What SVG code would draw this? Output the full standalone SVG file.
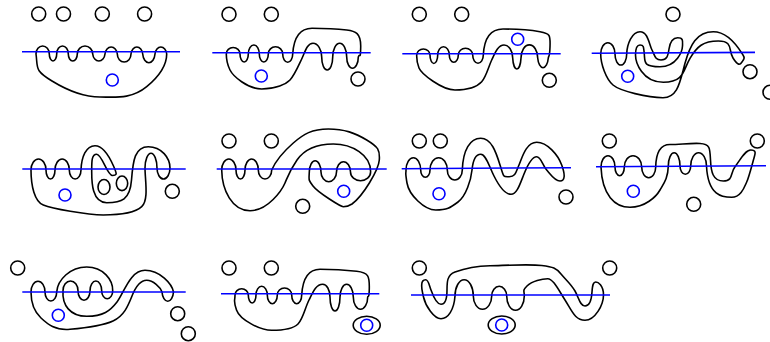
<svg xmlns="http://www.w3.org/2000/svg" width="770" height="342" viewBox="0 0 770 342">
<style>
path,circle,ellipse{fill:none;stroke:#000;stroke-width:1.6}
.b{stroke:#00f}
</style>
<rect width="770" height="342" fill="#fff"/>
<g id="p1">
<path d="M36 54A6.65 8 0 0 1 49.3 54A3.7 7 0 0 0 56.7 54A5.8 8 0 0 1 68.3 54A4.5 7 0 0 0 77.3 54A7.7 8 0 0 1 92.7 54A6.2 8 0 0 0 105 54A6.2 8 0 0 1 117.3 54A6.8 8 0 0 0 131 54A5.9 8 0 0 1 142.7 54A6.2 10 0 0 0 155 54A5.9 8 0 0 1 166.7 54C166.7 64 162 74 146.7 86.7S115 97 100 97S70 92 52 81S38 68 36 54Z"/>
<path class="b" d="M22 51.7H180"/><circle cx="38.7" cy="14" r="7"/><circle cx="63.5" cy="14" r="7"/><circle cx="102.3" cy="14" r="7"/><circle cx="144.6" cy="14" r="7"/><circle class="b" cx="112.3" cy="80" r="6"/>
</g>
<g id="p2">
<path d="M226.3 54A6.85 6.5 0 0 1 240 54A4.15 8 0 0 0 248.3 54A5.5 9 0 0 1 259.3 54A4.5 8 0 0 0 268.3 54A7.2 7.3 0 0 1 282.7 54A5 8.3 0 0 0 292.7 54C293.5 42 297 28.3 312 28.3S338 29 346.7 30S361 33 360.7 47S360 52 358.3 57A5.8 11.3 0 0 1 346.7 57A7 13.7 0 0 0 332.7 57A5.5 13 0 0 1 321.7 57A8.7 13.7 0 0 0 313 43.3C307 43.3 305 52 301.7 59S294 76 290 80S276 89 261.7 89S233 76 230 70S226.3 60 226.3 54Z"/>
<path class="b" d="M212.3 52.7H370.7"/><circle cx="229" cy="14.3" r="7"/><circle cx="271.3" cy="14.3" r="7"/><circle cx="358" cy="79" r="7"/><circle class="b" cx="261.3" cy="76" r="6"/>
</g>
<g id="p3">
<path d="M416.7 55A6.65 6 0 0 1 430 55A3.85 8.5 0 0 0 437.7 55A5.8 8.3 0 0 1 449.3 55A4.5 7.3 0 0 0 458.3 55A7.2 6.7 0 0 1 472.7 55A5.3 8.3 0 0 0 483.3 55C484 42 488 29 503 29S530 30 540 31.7S550.5 35 550 47S549 54 548.3 58A5.4 12 0 0 1 537.7 58A8.3 13 0 0 0 521 58A4.2 13 0 0 1 512.7 58A8.7 13 0 0 0 504 45C498 45 495 53 491.7 60S486 77 481.7 81.7S468 90 455 90S421.5 74 419 68S416.7 59 416.7 55Z"/>
<path class="b" d="M402.3 53.7H560.7"/><circle cx="419.3" cy="14.3" r="7"/><circle cx="461.7" cy="14.3" r="7"/><circle cx="549.3" cy="80.3" r="7"/><circle class="b" cx="517.7" cy="39.3" r="6"/>
</g>
<g id="p4">
<path d="M600.7 54A7.15 11.3 0 0 1 615 54A5.85 11 0 0 0 626.7 54C627 44 632 31.7 640 31.7C648 31.7 649 44 652 50S655 60 661 60S668 56 669 49S672 37.7 677.7 37.7S682.7 41 682.5 46S677 66.7 660 66.7S645 62 644.3 54S643.5 45 640 45S635.5 48 635.5 55S642 82.3 663.3 82.3S683 70 690 58.3S703 41 718.3 41S728 50 733 58S740 65 742 62S745 58 743 55S730 31.7 713.3 31.7S690 45 685 63.3S678 97.7 663 97.7S620 91 613 85S600.7 64 600.7 54Z"/>
<path class="b" d="M591.7 53.3L755 52.4"/><circle cx="673" cy="14.3" r="7"/><circle cx="750" cy="71.7" r="7"/><circle cx="770" cy="92.3" r="7"/><circle class="b" cx="627.7" cy="76.3" r="6"/>
</g>
<g id="p5">
<path d="M31 170A7.5 11 0 0 1 46 170A4.5 9 0 0 0 55 170A7.15 11 0 0 1 69.3 170A5.85 9 0 0 0 81 170C81.5 157 86 145.7 95 145.7S110 158 113.5 166S117.5 175.5 112.3 175.5S102 154.3 96.7 154.3S91.7 162 91.7 172S92 202.7 106.7 202.7S130 200 131.5 180S135 146.7 148.3 146.7S170 158 170 168A6.5 11 0 0 1 157 168A6 14.7 0 0 0 145 168C145 180 149 200 141.7 206.7S120 215 103.3 215S52 208.5 43.3 205S31 186 31 170Z"/>
<path class="b" d="M22.3 169H185.7"/><circle cx="172.3" cy="191.3" r="7"/><ellipse cx="104" cy="187" rx="6" ry="7.5"/><ellipse cx="122" cy="183.3" rx="5.7" ry="7.3"/><circle class="b" cx="65" cy="195" r="6"/>
</g>
<g id="p6">
<path d="M221.7 170A7.15 11 0 0 1 236 170A4.5 9 0 0 0 245 170A6.65 11 0 0 1 258.3 170A6.7 9 0 0 0 271.7 170C276 160 283 152 293.3 143S312 129 328.3 129S355 133 366.7 140S380 150 379.3 160S363 196 352 204C349 206 346 206.7 343.3 206.7S318 192.5 313 186S309 180 309.3 172A5.85 11.3 0 0 1 321 172A7.75 9.7 0 0 0 336.5 172A7 10.3 0 0 1 350.5 172A10.05 8.7 0 0 0 370.6 172C371 155 352 144 333.3 144S304 150 297 160S288 176 285 183S268 210.7 250 210.7S222 190 221.7 170Z"/>
<path class="b" d="M216.7 169H386.7"/><circle cx="229" cy="141" r="7"/><circle cx="271.3" cy="141" r="7"/><circle cx="302.7" cy="206.3" r="7"/><circle class="b" cx="343.7" cy="191.3" r="6"/>
</g>
<g id="p7">
<path d="M406 170A7.35 12.3 0 0 1 420.7 170A4.65 7.3 0 0 0 430 170A8.65 12.3 0 0 1 447.3 170A7.5 10 0 0 0 462.3 170C463 150 470 138.3 480.7 138.3S496 152 500 165S503 176.7 509.3 176.7S516 172 519 165S526 142.3 536.7 142.3S558 155 561.7 165S565 181 560 181S551 175 546.7 170S541 156.7 536.7 156.7S528 164 524 174S517 194.3 511 194.3S499 186 494 176S486 154.3 480.7 154.3S473 160 472 170S466 196 458 202S447 210 435.7 210S409 195 407 183S406 175 406 170Z"/>
<path class="b" d="M401.7 168.7L571 167.7"/><circle cx="419.3" cy="141" r="7"/><circle cx="440.3" cy="141" r="7"/><circle cx="566" cy="197" r="7"/><circle class="b" cx="439" cy="193.7" r="6"/>
</g>
<g id="p8">
<path d="M601 167A7 11.3 0 0 1 615 167A4.65 8.7 0 0 0 624.3 167A8.7 11.3 0 0 1 641.7 167A7 10.7 0 0 0 655.7 167C656 153 660 144.5 670 144.5S690 143 700 143.5S710 148 710.5 160S713 181 723.3 181S730 173 735 166.7S745 150 750.7 150S755.5 153 754 158S749 177 746.7 182S741 197.3 731.7 197.3S708 196 706.5 166A7.9 13.3 0 0 0 690.7 166A5.35 8.3 0 0 1 680 166A5.85 13.3 0 0 0 668.3 166C668 178 664 183 660 190S645 207.3 630 207.3S602 195 601 167Z"/>
<path class="b" d="M596 166.7L766 165.7"/><circle cx="609.3" cy="141" r="7"/><circle cx="757.3" cy="141" r="7"/><circle cx="693.7" cy="204.3" r="7"/><circle class="b" cx="633.3" cy="191.3" r="6"/>
</g>
<g id="p9">
<path d="M31 292A7 10.7 0 0 1 45 292A5.85 9 0 0 0 56.7 292C57.5 280 70 267 86.7 267S113 280 112.7 290.7A5.5 8 0 0 1 101.7 290.7A5.85 9.7 0 0 0 90 290.7A6 9.6 0 0 1 78 290.7A7.5 9.7 0 0 0 63 290.7C62 305 70 316.3 86.7 316.3S110 311 117 302S130 270.3 145 270.3S172 284 173.5 292A5.8 10.7 0 0 1 162 292C160.5 287 153 280.3 146.7 280.3S136 286 132 296S124 316 113 321S85 328 70 329.3S48 324.5 41 318S31 304 31 292Z"/>
<path class="b" d="M22.3 292H185.7"/><circle cx="17.7" cy="268" r="7"/><circle cx="177.7" cy="313.7" r="7"/><circle cx="188.3" cy="333.7" r="7"/><circle class="b" cx="58.3" cy="315.3" r="6"/>
</g>
<g id="p10">
<path d="M235 295A6.65 6.3 0 0 1 248.3 295A3.85 8 0 0 0 256 295A5.65 8.7 0 0 1 267.3 295A5 8.7 0 0 0 277.3 295A7.2 7 0 0 1 291.7 295A5 8.7 0 0 0 301.7 295C302.5 282 306 269.3 320 269.3S345 270 356.7 271.3S369.5 276 369.3 288S368 295 367.7 297A7.2 12.3 0 0 1 353.3 297A6.65 12.7 0 0 0 340 297A5 14 0 0 1 330 297A7.3 12.7 0 0 0 322.7 284.3C316 284.3 313 292 309 300S303 319 298 324S283 330.3 271.7 330.3S240 320 236.5 310S235 302 235 295Z"/>
<path class="b" d="M221 293.7H379.3"/><circle cx="229" cy="268" r="7"/><circle cx="271.3" cy="268" r="7"/><ellipse cx="366.7" cy="325.3" rx="13.5" ry="9"/><circle class="b" cx="366.7" cy="325.3" r="6"/>
</g>
<g id="p11">
<path d="M421.7 285C421.7 281 423.5 279.7 425.7 279.7C428.5 279.7 429 285 431 290C433.5 297 437 304.3 441 304.3S447 298 447 290S447 275 455 272S475 266 490 265.7S530 264 541.7 265.5S556 268 561 274S571 284 575 291S580 306 585 306S591.5 300 592 292S593.5 282 595.7 282S603.5 285 603.5 295S595 320.3 585 320.3S572 311 565 300S553 278.7 547.7 278.7S532 281 527 286S524.5 291 524.3 296A8.8 14.3 0 0 1 506.7 296A7.5 9.7 0 0 0 491.7 296A9.2 13.3 0 0 1 473.3 296A9.15 16.3 0 0 0 455 296C454 310 448 318.7 441 318.7S425.5 306 423.5 297S421.7 290 421.7 285Z"/>
<path class="b" d="M411 295H610"/><circle cx="419.3" cy="268" r="7"/><circle cx="609.7" cy="268" r="7"/><ellipse cx="501.7" cy="325" rx="13.5" ry="9"/><circle class="b" cx="501.7" cy="325" r="6"/>
</g>
</svg>
